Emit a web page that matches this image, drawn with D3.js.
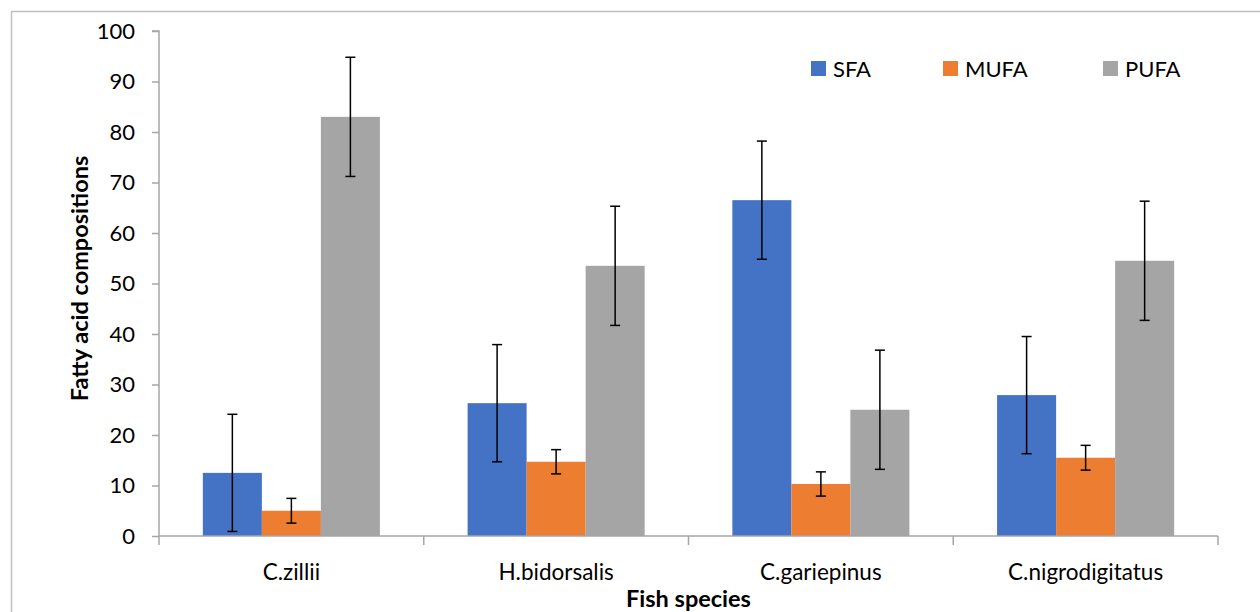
<!DOCTYPE html>
<html><head><meta charset="utf-8">
<script src="https://cdn.jsdelivr.net/npm/d3@7"></script>
<style>body{margin:0;background:#fff}svg{display:block}text{font-family:Lato,"Open Sans",sans-serif;fill:#000}</style>
</head><body><svg id="c" width="1260" height="612"></svg>
<script>
const categories = ["C.zillii","H.bidorsalis","C.gariepinus","C.nigrodigitatus"];
const seriesNames = ["SFA","MUFA","PUFA"];
const seriesColors = ["#4472c4","#ed7d31","#a5a5a5"];
const sfa = [12.5, 26.3, 66.5, 27.9];
const mufa = [5.0, 14.7, 10.3, 15.5];
const pufa = [83.0, 53.5, 25.0, 54.5];
const sfaErr = [11.6, 11.6, 11.7, 11.6];
const mufaErr = [2.45, 2.4, 2.4, 2.45];
const pufaErr = [11.8, 11.8, 11.8, 11.8];
const yTicks = [0,10,20,30,40,50,60,70,80,90,100];

const values = [sfa, mufa, pufa];
const errs = [sfaErr, mufaErr, pufaErr];

const svg = d3.select("#c");
const L = 159, R = 1218, T = 31, B = 536;

svg.append("rect").attr("x",11.5).attr("y",11.5).attr("width",1260).attr("height",620)
  .attr("fill","none").attr("stroke","#bfbfbf").attr("stroke-width",1.5);

const x0 = d3.scaleBand().domain(categories).range([L,R]).padding(0);
const x1 = d3.scaleBand().domain(seriesNames).range([0,x0.bandwidth()]).paddingInner(0).paddingOuter(0.743);
const y = d3.scaleLinear().domain([0,100]).range([B,T]);

// y axis
const ya = svg.append("g").attr("transform",`translate(${L},0)`)
  .call(d3.axisLeft(y).tickValues(yTicks).tickSize(7).tickPadding(17).tickFormat(d3.format("d")));
ya.select(".domain").attr("stroke","#a6a6a6").attr("stroke-width",1.5).attr("d",`M-7,${T}H0V${B}`);
ya.selectAll(".tick line").attr("stroke","#a6a6a6").attr("stroke-width",1.5);
ya.selectAll(".tick text").attr("font-size",22).attr("font-family","Lato").attr("fill","#000");

// bars
const g = svg.append("g");
categories.forEach((c,i)=>{
  seriesNames.forEach((s,j)=>{
    const v = values[j][i];
    g.append("rect").attr("x",x0(c)+x1(s)).attr("y",y(v))
      .attr("width",x1.bandwidth()).attr("height",y(0)-y(v)).attr("fill",seriesColors[j]);
  });
});

// x axis
const xa = svg.append("g").attr("transform",`translate(0,${B})`);
xa.append("line").attr("x1",L).attr("x2",R).attr("y1",0).attr("y2",0).attr("stroke","#a6a6a6").attr("stroke-width",1.5);
const bounds = categories.map(c=>x0(c)).concat([R]);
bounds.forEach(b=>xa.append("line").attr("x1",b).attr("x2",b).attr("y1",0).attr("y2",9).attr("stroke","#a6a6a6").attr("stroke-width",1.5));
categories.forEach(c=>xa.append("text").attr("x",x0(c)+x0.bandwidth()/2).attr("y",44)
  .attr("text-anchor","middle").attr("font-size",22.5).text(c));

// error bars
const eb = svg.append("g").attr("stroke","#000").attr("stroke-width",1.5);
categories.forEach((c,i)=>{
  seriesNames.forEach((s,j)=>{
    const cx = x0(c)+x1(s)+x1.bandwidth()/2;
    const v = values[j][i], e = errs[j][i];
    eb.append("line").attr("x1",cx).attr("x2",cx).attr("y1",y(v+e)).attr("y2",y(v-e));
    eb.append("line").attr("x1",cx-5).attr("x2",cx+5).attr("y1",y(v+e)).attr("y2",y(v+e));
    eb.append("line").attr("x1",cx-5).attr("x2",cx+5).attr("y1",y(v-e)).attr("y2",y(v-e));
  });
});

// legend
const legX = [811, 943, 1103];
seriesNames.forEach((s,j)=>{
  svg.append("rect").attr("x",legX[j]).attr("y",61).attr("width",15).attr("height",15).attr("fill",seriesColors[j]);
  svg.append("text").attr("x",legX[j]+22).attr("y",77).attr("font-size",22).text(s);
});

// axis titles
svg.append("text").attr("x",(L+R)/2).attr("y",607).attr("text-anchor","middle")
  .attr("font-size",23.5).attr("font-weight","bold").text("Fish species");
svg.append("text").attr("transform",`translate(88,${(150+407)/2}) rotate(-90)`).attr("text-anchor","middle")
  .attr("font-size",23.5).attr("font-weight","bold").text("Fatty acid compositions");
</script></body></html>
